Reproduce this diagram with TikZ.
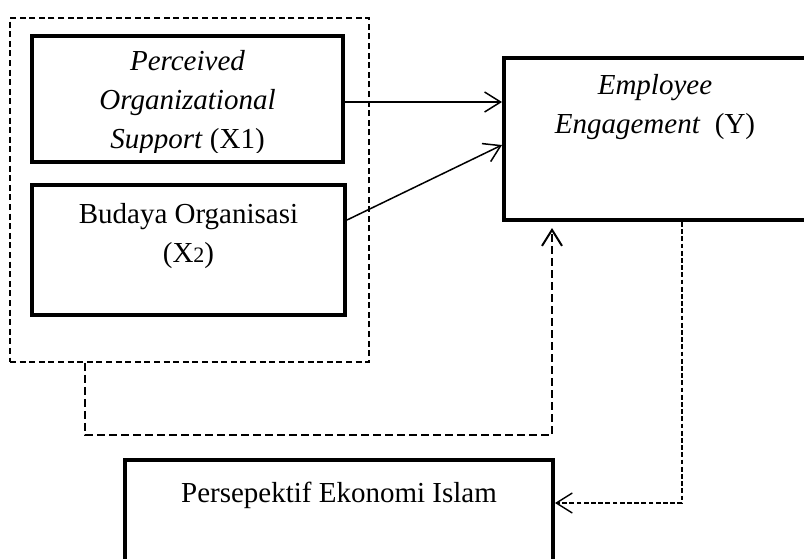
\documentclass[tikz,border=0pt]{standalone}
\usepackage{fontspec}
\setmainfont{Liberation Serif}
\usetikzlibrary{arrows.meta}

\begin{document}
\begin{tikzpicture}[x=0.5pt,y=-0.5pt,
	box/.style={draw,line width=2pt,inner sep=0pt},
	lbl/.style={align=center,inner sep=0pt,font=\fontsize{14.5pt}{19.5pt}\selectfont},
	link/.style={line width=0.75pt,-{Straight Barb[length=8pt,width=10pt]}},
	grpbox/.style={draw,line width=0.75pt,dash pattern=on 3pt off 1.8pt,inner sep=0pt},
	dlink/.style={line width=1pt,dash pattern=on 4pt off 2pt,shorten >=3pt,-{Straight Barb[length=8pt,width=10pt]}},
	dlinkb/.style={line width=0.7pt,dash pattern=on 2.4pt off 1.2pt,-{Straight Barb[length=8pt,width=10pt]}}]
	\useasboundingbox (0,0) rectangle (804,558);
	\clip (0,0) rectangle (804,558);
	% group of the two variables
	\node[grpbox,minimum width=179.5pt,minimum height=172pt] (grp) at (189.5,190) {};
	% boxes
	\node[box,minimum width=155.5pt,minimum height=63pt] (x1) at (187.5,99) {};
	\node[box,minimum width=156.5pt,minimum height=65pt] (x2) at (188.5,250) {};
	\node[box,minimum width=151pt,minimum height=81pt] (y) at (655,139) {};
	\node[box,minimum width=214pt,minimum height=75pt] (p) at (339,535) {};
	% texts
	\scope
	\clip (30,34) rectangle (345,152);
	\node[lbl] (x1t) at (187.5,103) {\textit{Perceived}\\\textit{Organizational}\\\textit{Support} (X1)};
	\endscope
	\node[lbl] (x2t) at (188.5,236) {Budaya Organisasi\\(X{\fontsize{11pt}{11pt}\selectfont 2})};
	\node[lbl] (yt) at (655,107) {\textit{Employee}\\\textit{Engagement}~~(Y)};
	\node[lbl] (pt) at (339,495) {Persepektif Ekonomi Islam};
	% connectors
	\draw[link] ([yshift=-1.5pt]x1.east) coordinate (a1) -- (a1 -| y.west);
	\draw[link] ([yshift=15pt]x2.east) -- ([yshift=-3pt]y.west);
	\draw[dlink] ([xshift=38pt]grp.south west) -- ++(0,72) -| ([xshift=-51.5pt]y.south);
	\draw[dlinkb] ([xshift=13.5pt]y.south) |- ([yshift=16pt]p.east);
\end{tikzpicture}
\end{document}
